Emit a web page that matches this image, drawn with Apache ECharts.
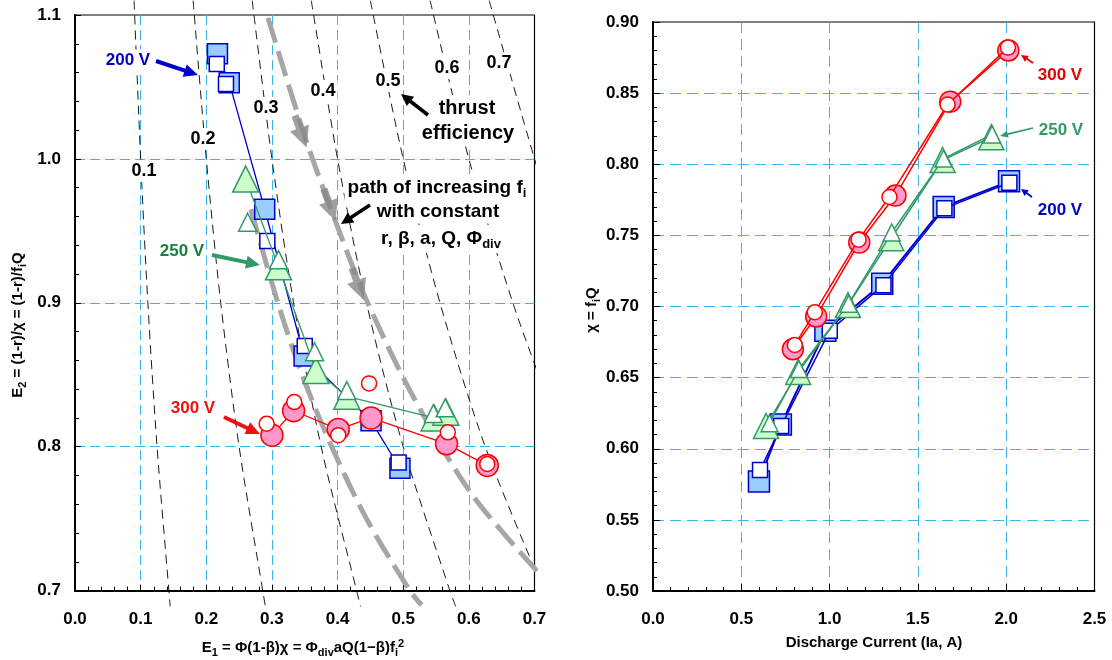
<!DOCTYPE html>
<html><head><meta charset="utf-8">
<script src="https://cdn.jsdelivr.net/npm/echarts@6/dist/echarts.min.js"></script>
<style>html,body{margin:0;padding:0;background:#fff}#c{width:1112px;height:660px}</style>
</head><body><div id="c"></div>
<script>
// ---------- DATA ----------
// Left chart: x = E1, y = E2
const left200Filled = [[0.217,1.073],[0.235,1.053],[0.289,0.965],[0.349,0.863],[0.451,0.818],[0.495,0.785]];
const left200Open   = [[0.216,1.066],[0.230,1.052],[0.293,0.943],[0.350,0.870],[0.450,0.820],[0.493,0.789]];
const left250Filled = [[0.260,0.986],[0.310,0.925],[0.367,0.853],[0.414,0.835],[0.547,0.820],[0.565,0.824]];
const left250Open   = [[0.263,0.956],[0.310,0.930],[0.365,0.866],[0.414,0.839],[0.546,0.823],[0.564,0.827]];
const left300Filled = [[0.300,0.808],[0.333,0.825],[0.401,0.812],[0.451,0.820],[0.566,0.802],[0.628,0.787]];
const left300Open   = [[0.292,0.816],[0.334,0.831],[0.401,0.808],[0.448,0.844],[0.568,0.810],[0.628,0.788]];
// thrust-efficiency contours (dashed black)
const eff01 = [[0.090,1.110],[0.100,1.000],[0.111,0.900],[0.125,0.800],[0.143,0.700],[0.145,0.689]];
const eff02 = [[0.180,1.110],[0.200,1.000],[0.222,0.900],[0.250,0.800],[0.286,0.700],[0.290,0.689]];
const eff03 = [[0.270,1.110],[0.300,1.000],[0.333,0.900],[0.375,0.800],[0.429,0.700],[0.435,0.689]];
const eff04 = [[0.360,1.110],[0.400,1.000],[0.444,0.900],[0.500,0.800],[0.571,0.700],[0.580,0.689]];
const eff05 = [[0.450,1.110],[0.500,1.000],[0.556,0.900],[0.625,0.800],[0.714,0.700],[0.725,0.689]];
const eff06 = [[0.541,1.110],[0.600,1.000],[0.667,0.900],[0.720,0.833]];
const eff07 = [[0.631,1.110],[0.700,1.000],[0.714,0.980]];
const effLabels = ['0.1','0.2','0.3','0.4','0.5','0.6','0.7'];
// gray "path of increasing fi" curves
const pathA = [[0.294,1.098],[0.352,1.013],[0.399,0.954],[0.443,0.903],[0.515,0.835],[0.606,0.766],[0.725,0.703]];
const pathB = [[0.268,0.965],[0.309,0.900],[0.346,0.850],[0.391,0.800],[0.444,0.750],[0.510,0.700],[0.528,0.690]];
const pathArrows = [[0.344,1.019],[0.388,0.968],[0.431,0.913]];
// Right chart: x = discharge current (A), y = chi
const right200Filled = [[0.600,0.577],[0.724,0.617],[0.976,0.683],[1.298,0.716],[1.646,0.770],[2.016,0.788]];
const right200Open   = [[0.606,0.585],[0.726,0.616],[1.001,0.683],[1.305,0.715],[1.650,0.769],[2.018,0.787]];
const right250Filled = [[0.640,0.616],[0.822,0.654],[1.104,0.701],[1.349,0.748],[1.640,0.803],[1.916,0.819]];
const right250Open   = [[0.660,0.618],[0.826,0.656],[1.108,0.702],[1.352,0.752],[1.645,0.804],[1.920,0.821]];
const right300Filled = [[0.792,0.670],[0.924,0.693],[1.168,0.745],[1.373,0.778],[1.683,0.844],[2.012,0.880]];
const right300Open   = [[0.803,0.673],[0.916,0.696],[1.164,0.747],[1.339,0.777],[1.668,0.842],[2.010,0.882]];
const voltLabels = ['200 V','250 V','300 V'];

// ---------- STYLE ----------
const FF = '"Liberation Sans", Arial, sans-serif';
const BLUE = '#0000cc', BLUEF = '#99ccff';
const GREEN = '#339966', GREENF = '#ccffcc', GREENT = '#17803a';
const RED = '#ff0000', REDF = '#ff99cc';
const GRID = '#3cb6e8';

function fs(size, extra){ return Object.assign({fontSize:size, fontWeight:'bold', fontFamily:FF, fill:'#000'}, extra||{}); }

function pts(data, xi, symbol, size, fill, stroke, line, lw, z){
  const s = {type: line ? 'line' : 'scatter', data, xAxisIndex:xi, yAxisIndex:xi, symbol, symbolSize:size,
    itemStyle:{color:fill, borderColor:stroke, borderWidth:1.5, opacity:1}, z, silent:true, animation:false, clip:false};
  if (line) { s.lineStyle = {color:stroke, width:lw}; s.showSymbol = true; }
  return s;
}
function contour(data){
  return {type:'line', data, xAxisIndex:0, yAxisIndex:0, symbol:'none', smooth:0.3, clip:false, silent:true,
    animation:false, z:1, lineStyle:{color:'#000', width:0.9, type:[9,6]}};
}
function grayPath(data){
  return {type:'line', data, xAxisIndex:0, yAxisIndex:0, symbol:'none', smooth:0.3, clip:false, silent:true,
    animation:false, z:2, lineStyle:{color:'#a6a6a6', width:5, type:[26,9]}};
}

function axisCommon(min, max, interval, dec, labelMargin){
  return {type:'value', min, max, interval, axisLine:{show:true, onZero:false, lineStyle:{color:'#000', width:2}},
    axisTick:{show:true, inside:true, length:6, lineStyle:{color:'#000', width:1}},
    minorTick:{show:true, splitNumber:5, length:4, lineStyle:{color:'#000', width:1}},
    splitLine:{show:true, showMinLine:false, showMaxLine:false, lineStyle:{color:GRID, width:1, type:[10,5]}},
    axisLabel:{show:true, margin:labelMargin, color:'#000', fontSize:17, fontWeight:'bold', fontFamily:FF,
      showMinLabel:true, showMaxLabel:true, formatter:v => v.toFixed(dec)}};
}

function arrow(x1,y1,x2,y2,color,w,hl,hw){
  const a = Math.atan2(y2-y1, x2-x1), c = Math.cos(a), s = Math.sin(a);
  const bx = x2 - hl*c, by = y2 - hl*s;
  return [
    {type:'line', z:100, silent:true, shape:{x1, y1, x2:bx + c, y2:by + s}, style:{stroke:color, lineWidth:w}},
    {type:'polygon', z:101, silent:true, shape:{points:[[x2,y2],[bx - s*hw/2, by + c*hw/2],[bx + s*hw/2, by - c*hw/2]]}, style:{fill:color}}
  ];
}
function T(x, y, text, size, color, extra){
  return {type:'text', x, y, z:100, silent:true, style:Object.assign({text, fill:color, fontSize:size, fontWeight:'bold',
    fontFamily:FF, align:'center', verticalAlign:'middle'}, extra||{})};
}
const WB = {backgroundColor:'#fff', padding:[2,2]};

const richAxis = {
  a: fs(15, {lineHeight:20}),
  s: fs(11, {lineHeight:11, verticalAlign:'bottom'}),
  p: fs(11, {lineHeight:11, verticalAlign:'top'})
};
const richNote = {
  a: fs(19, {lineHeight:24}),
  s: fs(13, {lineHeight:13, verticalAlign:'bottom'})
};

const effPos = [[144,171],[203,139],[266,108],[323,91],[388,81],[447,68],[499,63]];

const graphics = [].concat(
  effLabels.map((t,i) => T(effPos[i][0], effPos[i][1], t, 18, '#000', WB)),
  [T(128, 60, voltLabels[0], 17, BLUE, WB), T(182, 251, voltLabels[1], 17, GREENT, WB), T(193, 408, voltLabels[2], 17, '#ee1111', WB)],
  arrow(156, 61, 198, 75, BLUE, 4, 14, 13),
  arrow(212, 255, 260, 265, GREEN, 4, 14, 13),
  arrow(224, 417, 260, 434, '#ee1111', 4, 14, 13),
  [T(467, 108, 'thrust', 20, '#000', {backgroundColor:'#fff', padding:[3,4]}),
   T(468, 133, 'efficiency', 20, '#000', {backgroundColor:'#fff', padding:[3,4]})],
  arrow(428, 115, 401, 94, '#000', 3.5, 12, 12),
  [T(437, 188, '{a|path of increasing f}{s|i}', 19, '#000', {rich:richNote, backgroundColor:'#fff', padding:[2,3]}),
   T(438, 212, 'with constant', 19, '#000', {backgroundColor:'#fff', padding:[2,3]}),
   T(441, 239, '{a|r, β, a, Q, Φ}{s|div}', 19, '#000', {rich:richNote, backgroundColor:'#fff', padding:[2,3]})],
  arrow(370, 205, 341, 224, '#000', 3.5, 12, 12),
  [T(1060, 75, voltLabels[2], 17, '#e60000'), T(1061, 130, voltLabels[1], 17, GREEN), T(1060, 210, voltLabels[0], 17, BLUE)],
  arrow(1033, 63, 1021, 55, '#e60000', 1.8, 7, 7),
  arrow(1033, 128, 1000, 136, GREEN, 1.8, 8, 7),
  arrow(1032, 197, 1021, 189, BLUE, 1.8, 7, 7),
  [T(303, 648, '{a|E}{s|1}{a| = Φ(1-β)χ = Φ}{s|div}{a|aQ(1−β)f}{s|i}{p|2}', 15, '#000', {rich:richAxis}),
   T(874, 643, 'Discharge Current (Ia, A)', 15, '#000'),
   Object.assign(T(18, 325, '{a|E}{s|2}{a| = (1-r)/χ = (1-r)/f}{s|i}{a|Q}', 15, '#000', {rich:richAxis}), {rotation:Math.PI/2}),
   Object.assign(T(592, 310, '{a|χ = f}{s|i}{a|Q}', 15, '#000', {rich:richAxis}), {rotation:Math.PI/2})]
);

const xL = axisCommon(0, 0.7, 0.1, 1, 20); xL.gridIndex = 0;
const yL = axisCommon(0.7, 1.1, 0.1, 1, 14); yL.gridIndex = 0;
const xR = axisCommon(0, 2.5, 0.5, 1, 20); xR.gridIndex = 1; xR.axisTick.length = 7;
const yR = axisCommon(0.5, 0.9, 0.05, 2, 14); yR.gridIndex = 1; yR.axisTick.length = 7;
xR.splitLine.lineStyle.type = [11,6]; yR.splitLine.lineStyle.type = [11,6];

const option = {
  backgroundColor:'#fff',
  animation:false,
  grid:[
    {left:75, top:15, width:459.5, height:575.6, show:true, borderColor:'#000', borderWidth:1.2, backgroundColor:'transparent', containLabel:false, outerBoundsMode:'none'},
    {left:653, top:22, width:441.5, height:569, show:true, borderColor:'#000', borderWidth:1.2, backgroundColor:'transparent', containLabel:false, outerBoundsMode:'none'}
  ],
  xAxis:[xL, xR],
  yAxis:[yL, yR],
  series:[
    contour(eff01), contour(eff02), contour(eff03), contour(eff04), contour(eff05), contour(eff06), contour(eff07),
    grayPath(pathA), grayPath(pathB),
    {type:'scatter', data:pathArrows, xAxisIndex:0, yAxisIndex:0, z:3, silent:true, animation:false, clip:false,
      symbol:'path://M7,0L15,0L15,14L22,14L11,36L0,14L7,14Z', symbolSize:[20,34], symbolRotate:20,
      itemStyle:{color:'#878787'}},
    pts(left200Filled, 0, 'rect', 20, BLUEF, BLUE, true, 1.3, 10),
    pts(left200Open, 0, 'rect', 15, '#fff', BLUE, false, 0, 11),
    pts(left250Filled, 0, 'triangle', 26, GREENF, GREEN, true, 1.3, 12),
    pts(left250Open, 0, 'triangle', 18, '#fff', GREEN, false, 0, 13),
    pts(left300Filled, 0, 'circle', 22, REDF, RED, true, 1.3, 14),
    pts(left300Open, 0, 'circle', 15, '#fff', RED, false, 0, 15),
    pts(right200Filled, 1, 'rect', 21, BLUEF, BLUE, true, 2, 10),
    pts(right200Open, 1, 'rect', 15, '#fff', BLUE, true, 1.5, 11),
    pts(right250Filled, 1, 'triangle', 25, GREENF, GREEN, true, 1.5, 12),
    pts(right250Open, 1, 'triangle', 17, '#fff', GREEN, true, 1.5, 13),
    pts(right300Filled, 1, 'circle', 21, REDF, RED, true, 1.5, 14),
    pts(right300Open, 1, 'circle', 15, '#fff', RED, true, 1.5, 15)
  ],
  graphic:{elements:graphics}
};
const chart = echarts.init(document.getElementById('c'), null, {renderer:'canvas', width:1112, height:660});
chart.setOption(option);
</script></body></html>
